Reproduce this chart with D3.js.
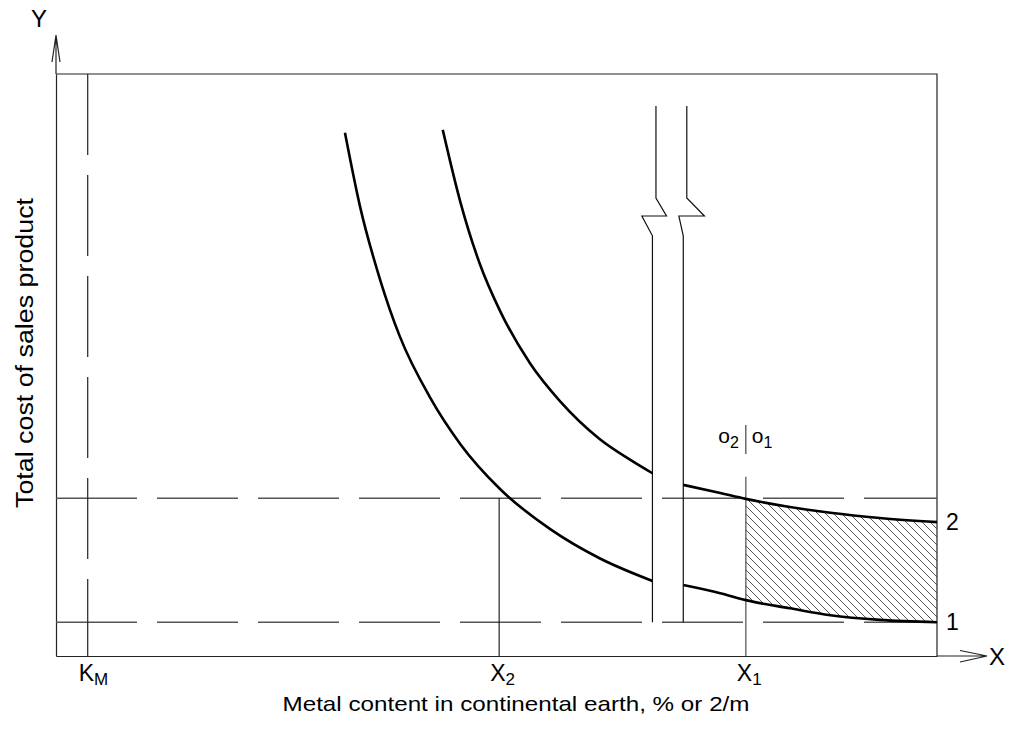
<!DOCTYPE html>
<html><head><meta charset="utf-8">
<script src="https://cdn.jsdelivr.net/npm/d3@7"></script>
<style>
body{margin:0;background:#fff}
text{font-family:Arial,"Liberation Sans",sans-serif;fill:#000}
</style>
</head><body>
<svg id="c" width="1017" height="730"></svg>
<script>
// ---- data (abstract units, x: 0..100, y: 0..100) ----
const curve1Left = [[32.8,89.9],[34.5,77.3],[36.8,64.6],[39.0,55.0],[42.5,44.3],[45.9,36.4],[50.4,28.7],[56.1,21.8],[61.7,16.8],[67.7,12.9]];
const curve2Left = [[43.9,90.4],[45.9,78.0],[48.1,67.4],[50.4,59.3],[53.8,50.3],[57.2,43.8],[61.7,37.3],[65.2,33.7],[67.7,31.4]];
const rightX = [71.2,75.4,78.3,83.3,87.9,93.5,100];
const curve2Right = [29.4,28.0,27.0,25.6,24.6,23.7,23.0];
const curve1Right = [12.2,10.8,9.6,8.2,7.0,6.2,5.8];
const levelUpper = 27.1, levelLower = 5.8;
const xKM = 3.6, xX2 = 50.3, xX1 = 78.3;
const x1GuideTop = 30.8;
const breakLeft = [[68.1,94.5],[68.1,78.7],[69.3,75.6],[66.5,75.6],[67.7,72.2],[67.7,5.8]];
const breakRight = [[71.6,94.5],[71.6,78.7],[73.6,75.6],[70.7,75.6],[71.2,72.2],[71.2,5.8]];
const oMark = [39.7, 36.6, 34.7]; // separator top, label baseline level, separator bottom
const tickLabels = [{v:xKM, main:"K", sub:"M"},{v:xX2, main:"X", sub:"2"},{v:xX1, main:"X", sub:"1"}];
const curveLabels = [{v:curve2Right[curve2Right.length-1], t:"2"},{v:curve1Right[curve1Right.length-1], t:"1"}];

// ---- drawing ----
const svg = d3.select("#c");
const x = d3.scaleLinear().domain([0,100]).range([56,937]);
const y = d3.scaleLinear().domain([0,100]).range([656,74]);
const frame = "#222";

const defs = svg.append("defs");
const pat = defs.append("pattern").attr("id","hatch").attr("patternUnits","userSpaceOnUse")
  .attr("width",8).attr("height",8);
pat.append("path").attr("d","M0,0L8,8M-1,7L1,9M7,-1L9,1").attr("stroke","#444").attr("stroke-width",0.9);

const rightPts = rightX.map((v,i)=>({x:v, y1:curve1Right[i], y2:curve2Right[i]}));
const area = d3.area().curve(d3.curveMonotoneX).x(d=>x(d.x)).y0(d=>y(d.y1)).y1(d=>y(d.y2));
defs.append("clipPath").attr("id","band").append("path").attr("d", area(rightPts));

// frame: top and right
svg.append("path").attr("d",`M${x(0)},${y(100)}H${x(100)}V${y(0)}`).attr("fill","none").attr("stroke",frame).attr("stroke-width",1.2);

// axes
svg.append("g").attr("transform",`translate(0,${y(0)})`).call(d3.axisBottom(x).tickValues([]).tickSizeOuter(0));
svg.append("g").attr("transform",`translate(${x(0)},0)`).call(d3.axisLeft(y).tickValues([]).tickSizeOuter(0));
svg.selectAll(".domain").attr("stroke",frame).attr("stroke-width",1.2);
// arrow extensions
svg.append("path").attr("d",`M${x(0)},${y(100)}V35M52,62L56,35L60,62`).attr("fill","none").attr("stroke",frame).attr("stroke-width",1.2);
svg.append("path").attr("d",`M${x(100)},${y(0)}H987M960,650.5L987,656L960,662`).attr("fill","none").attr("stroke",frame).attr("stroke-width",1.2);

// dashed guide lines
const dash = "81 20";
[levelUpper, levelLower].forEach(l=>{
  svg.append("line").attr("x1",x(0)).attr("x2",x(100)).attr("y1",y(l)).attr("y2",y(l))
    .attr("stroke","#555").attr("stroke-width",1.4).attr("stroke-dasharray",dash);
});
svg.append("line").attr("x1",x(xKM)).attr("x2",x(xKM)).attr("y1",y(100)).attr("y2",y(0))
  .attr("stroke","#222").attr("stroke-width",1.2).attr("stroke-dasharray",dash);

// vertical guides
svg.append("line").attr("x1",x(xX2)).attr("x2",x(xX2)).attr("y1",y(levelUpper)).attr("y2",y(0)).attr("stroke","#111").attr("stroke-width",1.1);
svg.append("line").attr("x1",x(xX1)).attr("x2",x(xX1)).attr("y1",y(x1GuideTop)).attr("y2",y(0)).attr("stroke","#666").attr("stroke-width",1.4);
svg.append("line").attr("x1",x(xX1)).attr("x2",x(xX1)).attr("y1",y(oMark[0])).attr("y2",y(oMark[2])).attr("stroke","#444").attr("stroke-width",1.2);

// hatch
svg.append("rect").attr("x",x(xX1)).attr("y",y(40)).attr("width",x(100)-x(xX1)).attr("height",y(0)-y(40))
  .attr("fill","url(#hatch)").attr("clip-path","url(#band)");

// break lines
const straight = d3.line().x(d=>x(d[0])).y(d=>y(d[1]));
[breakLeft, breakRight].forEach(b=>{
  svg.append("path").attr("d",straight(b)).attr("fill","none").attr("stroke","#111").attr("stroke-width",1.2);
});

// curves
const smooth = d3.line().curve(d3.curveMonotoneX).x(d=>x(d[0])).y(d=>y(d[1]));
[curve1Left, curve2Left, rightX.map((v,i)=>[v,curve2Right[i]]), rightX.map((v,i)=>[v,curve1Right[i]])].forEach(c=>{
  svg.append("path").attr("d",smooth(c)).attr("fill","none").attr("stroke","#000").attr("stroke-width",2.6);
});

// labels
svg.append("text").attr("x",39).attr("y",27).attr("text-anchor","middle").attr("font-size",24).text("Y");
svg.append("text").attr("x",997).attr("y",665).attr("text-anchor","middle").attr("font-size",24).text("X");
tickLabels.forEach(t=>{
  const tx = svg.append("text").attr("x",x(t.v)-9).attr("y",681).attr("font-size",23);
  tx.append("tspan").text(t.main);
  tx.append("tspan").attr("dy",4).attr("font-size",17).text(t.sub);
});
curveLabels.forEach(c=>{
  svg.append("text").attr("x",946).attr("y",y(c.v)+8).attr("font-size",23).text(c.t);
});
const o2 = svg.append("text").attr("x",x(xX1)-7).attr("y",y(oMark[1])).attr("text-anchor","end").attr("font-size",21);
o2.append("tspan").text("o"); o2.append("tspan").attr("dy",5).attr("font-size",16).text("2");
const o1 = svg.append("text").attr("x",x(xX1)+6).attr("y",y(oMark[1])).attr("font-size",21);
o1.append("tspan").text("o"); o1.append("tspan").attr("dy",5).attr("font-size",16).text("1");

svg.append("text").attr("x",516).attr("y",711).attr("text-anchor","middle").attr("font-size",21)
  .attr("textLength",467).attr("lengthAdjust","spacingAndGlyphs")
  .text("Metal content in continental earth, % or 2/m");
svg.append("text").attr("transform","translate(33,353) rotate(-90)").attr("text-anchor","middle").attr("font-size",23)
  .attr("textLength",310).attr("lengthAdjust","spacingAndGlyphs")
  .text("Total cost of sales product");
</script>
</body></html>
